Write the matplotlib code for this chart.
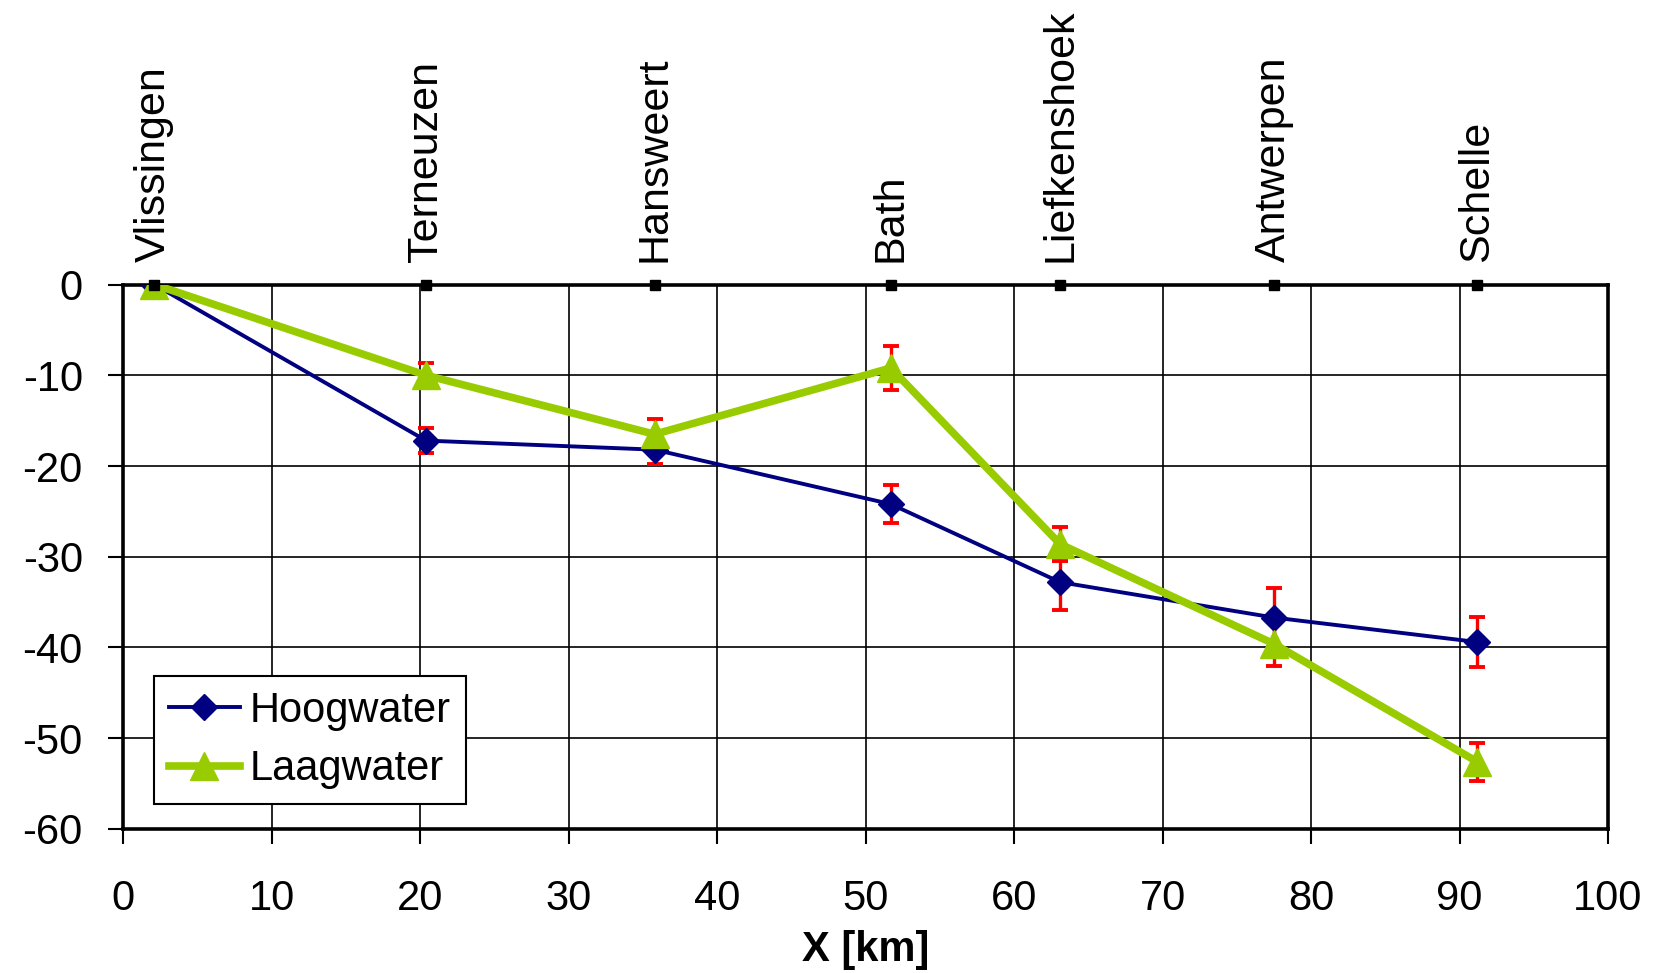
import numpy as np
import matplotlib
matplotlib.use("Agg")
import matplotlib.pyplot as plt
import matplotlib.transforms as mtransforms

plt.rcParams['font.family'] = ['Liberation Sans', 'DejaVu Sans']
plt.rcParams['axes.unicode_minus'] = False

# stations along the estuary
stations = ["Vlissingen", "Terneuzen", "Hansweert", "Bath", "Liefkenshoek", "Antwerpen", "Schelle"]
x_km = [2.1, 20.4, 35.8, 51.7, 63.1, 77.5, 91.2]

hoog = [0.0, -17.2, -18.2, -24.2, -32.8, -36.7, -39.4]
hoog_err = [0.0, 1.4, 1.6, 2.1, 3.1, 3.3, 2.8]
laag = [0.0, -10.0, -16.5, -9.2, -28.6, -39.6, -52.6]
laag_err = [0.0, 1.4, 1.7, 2.4, 1.9, 2.4, 2.1]

fig = plt.figure(figsize=(16.54, 9.73), dpi=100)
ax = fig.add_axes([0.0744, 0.148, 0.8978, 0.5596])

ax.errorbar(x_km, hoog, yerr=hoog_err, fmt='none', ecolor='#ff0000',
            elinewidth=2.4, capsize=5.5, capthick=2.8, zorder=3)
ax.errorbar(x_km, laag, yerr=laag_err, fmt='none', ecolor='#ff0000',
            elinewidth=2.4, capsize=5.5, capthick=2.8, zorder=3)
ax.plot(x_km, hoog, color='#000080', lw=2.8, marker='D', ms=13,
        label='Hoogwater', zorder=4)
ax.plot(x_km, laag, color='#99cc00', lw=5.5, marker='^', ms=20,
        label='Laagwater', zorder=5)

# station markers on the top axis
ax.plot(x_km, [0] * len(x_km), ls='none', marker='s', ms=7, color='black',
        clip_on=False, zorder=6)
trans = mtransforms.blended_transform_factory(ax.transData, ax.transAxes)
for name, xs in zip(stations, x_km):
    ax.annotate(name, (xs, 1.0), xycoords=trans, xytext=(0, 16),
                textcoords='offset points', rotation=90, ha='center',
                va='bottom', fontsize=31)

ax.set_xlim(0, 100)
ax.set_ylim(-60, 0)
ax.set_xticks(np.arange(0, 101, 10))
ax.set_yticks(np.arange(-60, 1, 10))
ax.grid(True, color='black', lw=1.2)
ax.set_axisbelow(True)
for sp in ax.spines.values():
    sp.set_linewidth(2.6)
ax.tick_params(axis='x', direction='out', length=11, width=1.5, labelsize=30, pad=25)
ax.tick_params(axis='y', direction='out', length=11, width=1.5, labelsize=30, pad=18)
ax.set_xlabel("X [km]", fontsize=30, fontweight='bold', labelpad=8)

leg = ax.legend(loc='lower left', bbox_to_anchor=(0.021, 0.046), borderaxespad=0,
                fontsize=30, fancybox=False, framealpha=1, edgecolor='black',
                handlelength=1.7, handletextpad=0.25, borderpad=0.35, labelspacing=0.45)
leg.get_frame().set_linewidth(1.5)

fig.savefig("out.png", dpi=100)
